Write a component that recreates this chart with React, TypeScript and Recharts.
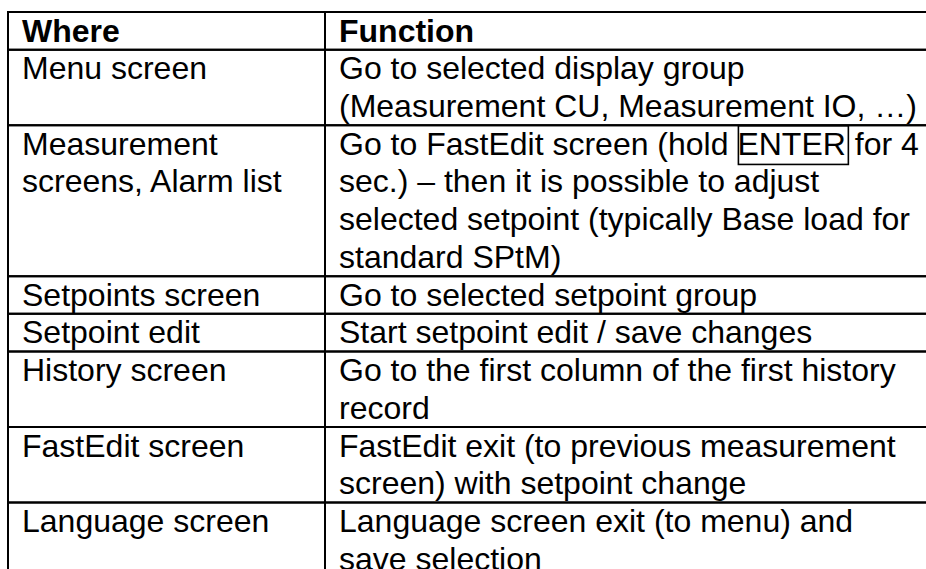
import React from "react";
import { ComposedChart, XAxis, YAxis, Scatter, ReferenceArea } from "recharts";

// table content, one entry per row, one string per printed line
const headers = ["Where", "Function"];
const whereLines = [
  ["Menu screen"],
  ["Measurement", "screens, Alarm list"],
  ["Setpoints screen"],
  ["Setpoint edit"],
  ["History screen"],
  ["FastEdit screen"],
  ["Language screen"],
];
const functionLines = [
  ["Go to selected display group", "(Measurement CU, Measurement IO, …)"],
  [
    "Go to FastEdit screen (hold ENTER for 4",
    "sec.) – then it is possible to adjust",
    "selected setpoint (typically Base load for",
    "standard SPtM)",
  ],
  ["Go to selected setpoint group"],
  ["Start setpoint edit / save changes"],
  ["Go to the first column of the first history", "record"],
  ["FastEdit exit (to previous measurement", "screen) with setpoint change"],
  ["Language screen exit (to menu) and", "save selection"],
];
const boxedWord = "ENTER";

const W = 940;
const H = 578;
const TOP = 12;
const LEFT = 8;
const TABLE_W = W - LEFT; // x units are pixels
const COL = 317; // first column width
const PAD = 14;
const FONT_SIZE = 32;
const FONT = "'Liberation Sans', Arial, sans-serif";

const rows = [[[headers[0]], [headers[1]]], ...whereLines.map((w, i) => [w, functionLines[i]])];
const rowLines = rows.map((r) => Math.max(r[0].length, r[1].length));
const rowStart = rowLines.map((_, i) => rowLines.slice(0, i).reduce((a, b) => a + b, 0));
const totalLines = rowLines.reduce((a, b) => a + b, 0);
const lineH = (H - TOP) / totalLines;
const BASE = 29.5 / lineH; // baseline inside a line, in line units

const cells = rows.flatMap((_, r) => [
  { key: `a${r}`, x1: 0, x2: COL, y1: rowStart[r], y2: rowStart[r] + rowLines[r] },
  { key: `b${r}`, x1: COL, x2: TABLE_W, y1: rowStart[r], y2: rowStart[r] + rowLines[r] },
]);

const textPoints = rows.flatMap((row, r) =>
  row.flatMap((lines, c) =>
    lines.map((text, i) => ({
      x: c === 0 ? PAD : COL + PAD,
      y: rowStart[r] + i + BASE,
      text,
      bold: r === 0,
    }))
  )
);

let ctx: CanvasRenderingContext2D | null = null;
function measure(s: string) {
  if (!ctx) {
    ctx = document.createElement("canvas").getContext("2d");
    if (ctx) ctx.font = `${FONT_SIZE}px ${FONT}`;
  }
  return ctx ? ctx.measureText(s).width : s.length * FONT_SIZE * 0.5;
}

const TextLine = (props: any) => {
  const { cx, cy, payload } = props;
  const idx = payload.text.indexOf(boxedWord);
  let box = null;
  if (idx >= 0) {
    const x0 = cx + measure(payload.text.slice(0, idx));
    const w = measure(boxedWord);
    box = (
      <rect
        x={x0 + 1}
        y={cy - 29.5 + 0.5}
        width={w + 1.5}
        height={lineH + 1}
        fill="none"
        stroke="#000"
        strokeWidth={1.6}
      />
    );
  }
  return (
    <g>
      <text
        x={cx}
        y={cy}
        fontFamily={FONT}
        fontSize={FONT_SIZE}
        fontWeight={payload.bold ? 700 : 400}
        fill="#000"
      >
        {payload.text}
      </text>
      {box}
    </g>
  );
};

export default function App() {
  return (
    <div
      style={{
        position: "fixed",
        left: 0,
        top: 0,
        width: 926,
        height: 569,
        overflow: "hidden",
        background: "#fff",
      }}
    >
      <ComposedChart
        width={W}
        height={H}
        margin={{ top: TOP, right: 0, bottom: 0, left: LEFT }}
      >
        <XAxis type="number" dataKey="x" domain={[0, TABLE_W]} allowDataOverflow hide />
        <YAxis type="number" dataKey="y" domain={[0, totalLines]} allowDataOverflow reversed hide />
        {cells.map((c) => (
          <ReferenceArea
            key={c.key}
            x1={c.x1}
            x2={c.x2}
            y1={c.y1}
            y2={c.y2}
            fill="none"
            stroke="#000"
            strokeWidth={2}
            ifOverflow="visible"
          />
        ))}
        <Scatter data={textPoints} shape={TextLine} isAnimationActive={false} />
      </ComposedChart>
    </div>
  );
}
